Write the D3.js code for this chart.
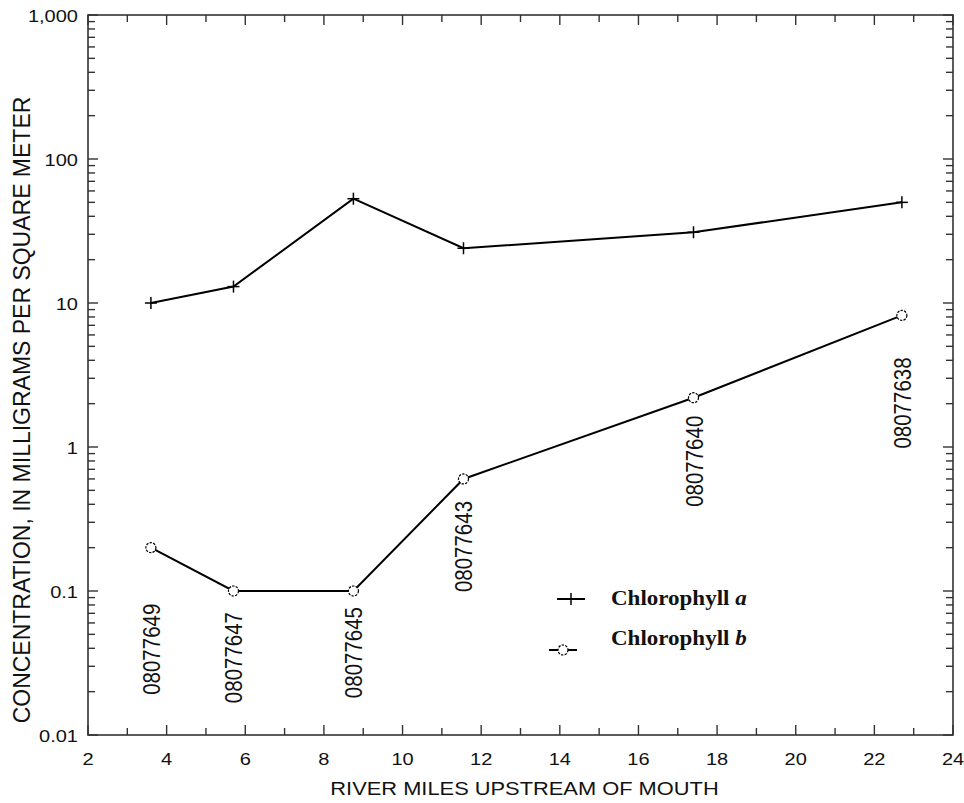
<!DOCTYPE html>
<html>
<head>
<meta charset="utf-8">
<script src="https://cdn.jsdelivr.net/npm/d3@7"></script>
<style>
  html, body { margin: 0; padding: 0; background: #fff; }
  svg { display: block; }
  text { font-family: "Liberation Sans", Arial, Helvetica, sans-serif; fill: #111; }
  .legend text { font-family: "Liberation Serif", "Times New Roman", serif; font-weight: bold; }
</style>
</head>
<body>
<svg id="chart" width="964" height="803"></svg>
<script>
// River mile of each sampling station and its USGS station number
const riverMiles = [3.6, 5.7, 8.75, 11.55, 17.4, 22.7];
const stations = ["08077649", "08077647", "08077645", "08077643", "08077640", "08077638"];
// Periphyton chlorophyll, milligrams per square meter
const chlorophyllA = [10, 13, 53, 24, 31, 50];
const chlorophyllB = [0.2, 0.1, 0.1, 0.6, 2.2, 8.2];
// Axis tick labels
const xTicks = [2, 4, 6, 8, 10, 12, 14, 16, 18, 20, 22, 24];
const yTicks = [0.01, 0.1, 1, 10, 100, 1000];
const yTickLabels = ["0.01", "0.1", "1", "10", "100", "1,000"];

const svg = d3.select("#chart");
const margin = { left: 88, top: 15, right: 11, bottom: 68 };
const W = 964, H = 803;
const x = d3.scaleLinear().domain([2, 24]).range([margin.left, W - margin.right]);
const y = d3.scaleLog().domain([0.01, 1000]).range([H - margin.bottom, margin.top]);

// glyphs in this figure are drawn slightly wide
const SX = 1.15;
const axisColor = "#333";

// minor (2..9) tick values on the log axis
const logMinor = [];
for (let e = -2; e < 3; e++) for (let m = 2; m <= 9; m++) logMinor.push(m * Math.pow(10, e));

const g = svg.append("g");

// frame
g.append("rect")
  .attr("x", x(2)).attr("y", y(1000))
  .attr("width", x(24) - x(2)).attr("height", y(0.01) - y(1000))
  .attr("fill", "none").attr("stroke", axisColor).attr("stroke-width", 1.6);

// y ticks, inside on both sides
function yTickMarks(side) {
  const x0 = side === "left" ? x(2) : x(24);
  const dir = side === "left" ? 1 : -1;
  g.append("g").selectAll("line").data(logMinor).join("line")
    .attr("x1", x0).attr("x2", x0 + dir * 7)
    .attr("y1", d => y(d)).attr("y2", d => y(d))
    .attr("stroke", axisColor).attr("stroke-width", 1.4);
  g.append("g").selectAll("line").data(yTicks).join("line")
    .attr("x1", x0).attr("x2", x0 + dir * 10)
    .attr("y1", d => y(d)).attr("y2", d => y(d))
    .attr("stroke", axisColor).attr("stroke-width", 1.4);
}
yTickMarks("left");
yTickMarks("right");

// x ticks every mile, inside on bottom and top; even miles longer
const xAll = d3.range(2, 25, 1);
function xTickMarks(side) {
  const y0 = side === "bottom" ? y(0.01) : y(1000);
  const dir = side === "bottom" ? -1 : 1;
  g.append("g").selectAll("line").data(xAll).join("line")
    .attr("x1", d => x(d)).attr("x2", d => x(d))
    .attr("y1", y0).attr("y2", d => y0 + dir * (d % 2 === 0 ? 10 : 7))
    .attr("stroke", axisColor).attr("stroke-width", 1.4);
}
xTickMarks("bottom");
xTickMarks("top");

// helper for horizontally widened text
function wideText(parent, px, py, str, opts) {
  const sx = opts.sx || SX;
  const t = parent.append("g")
    .attr("transform", `translate(${px},${py}) scale(${sx},1)` + (opts.rotate ? ` rotate(${opts.rotate})` : ""))
    .append("text")
    .attr("text-anchor", opts.anchor || "middle")
    .attr("dominant-baseline", opts.baseline || "auto")
    .style("font-size", opts.size + "px")
    .text(str);
  return t;
}

// y tick labels
yTicks.forEach((v, i) => {
  wideText(g, x(2) - 10, y(v) + 6.5, yTickLabels[i], { anchor: "end", size: 17.4 });
});
// x tick labels
xTicks.forEach(v => {
  wideText(g, x(v), y(0.01) + 30, String(v), { anchor: "middle", size: 17.4 });
});

// axis titles
wideText(g, (x(2) + x(24)) / 2 + 4, H - 8, "RIVER MILES UPSTREAM OF MOUTH", { anchor: "middle", size: 19 });
wideText(g, 21, 410, "CONCENTRATION, IN MILLIGRAMS PER SQUARE METER",
  { anchor: "middle", baseline: "central", size: 23, sx: 1.08, rotate: -90 });

// series lines
const line = d3.line().x((d, i) => x(riverMiles[i])).y(d => y(d));
g.append("path").datum(chlorophyllA).attr("d", line)
  .attr("fill", "none").attr("stroke", "#000").attr("stroke-width", 2);
g.append("path").datum(chlorophyllB).attr("d", line)
  .attr("fill", "none").attr("stroke", "#000").attr("stroke-width", 2);

// plus markers for chlorophyll a
function plus(sel, cx, cy) {
  sel.append("line").attr("x1", cx - 6).attr("x2", cx + 6).attr("y1", cy).attr("y2", cy)
    .attr("stroke", "#000").attr("stroke-width", 1.5);
  sel.append("line").attr("x1", cx).attr("x2", cx).attr("y1", cy - 6).attr("y2", cy + 6)
    .attr("stroke", "#000").attr("stroke-width", 1.5);
}
const markA = g.append("g");
chlorophyllA.forEach((v, i) => plus(markA, x(riverMiles[i]), y(v)));

// open circle markers for chlorophyll b
g.append("g").selectAll("circle").data(chlorophyllB).join("circle")
  .attr("cx", (d, i) => x(riverMiles[i])).attr("cy", d => y(d)).attr("r", 5)
  .attr("fill", "#fff").attr("stroke", "#000").attr("stroke-width", 1.2)
  .attr("stroke-dasharray", "2.4,1.2");

// station numbers, rotated, hung below each chlorophyll b point
const labelGap = [56, 21, 16, 22, 18, 42];
chlorophyllB.forEach((v, i) => {
  wideText(g, x(riverMiles[i]) + 1, y(v) + labelGap[i], stations[i],
    { anchor: "end", baseline: "central", size: 20.5, rotate: -90 });
});

// legend
const lg = g.append("g").attr("class", "legend");
lg.append("line").attr("x1", 557).attr("x2", 585).attr("y1", 599).attr("y2", 599)
  .attr("stroke", "#000").attr("stroke-width", 2);
plus(lg, 571, 599);
wideText(lg, 611, 605, "Chlorophyll ", { anchor: "start", size: 20 })
  .append("tspan").style("font-style", "italic").text("a");
lg.append("line").attr("x1", 549).attr("x2", 577).attr("y1", 650).attr("y2", 650)
  .attr("stroke", "#000").attr("stroke-width", 2);
lg.append("circle").attr("cx", 563).attr("cy", 650).attr("r", 5)
  .attr("fill", "#fff").attr("stroke", "#000").attr("stroke-width", 1.2)
  .attr("stroke-dasharray", "2.4,1.2");
wideText(lg, 611, 645, "Chlorophyll ", { anchor: "start", size: 20 })
  .append("tspan").style("font-style", "italic").text("b");
</script>
</body>
</html>
